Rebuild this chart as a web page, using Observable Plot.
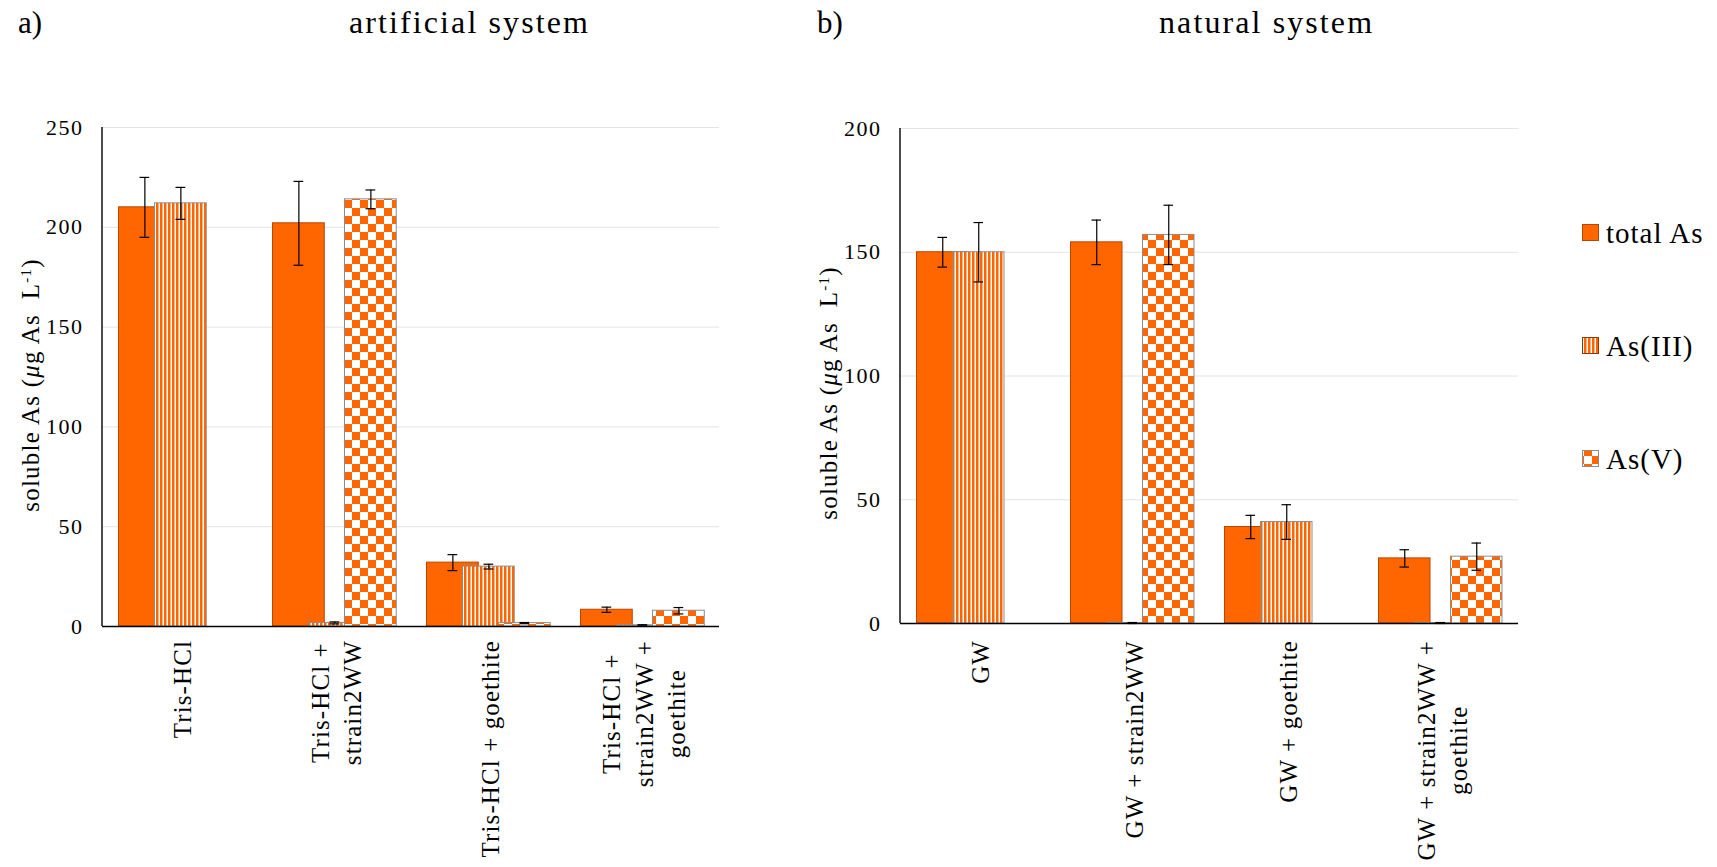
<!DOCTYPE html>
<html><head><meta charset="utf-8">
<script src="https://cdn.jsdelivr.net/npm/d3@7"></script>
<script src="https://cdn.jsdelivr.net/npm/@observablehq/plot@0.6"></script>
<style>
html,body{margin:0;padding:0;background:#fff;}
body{width:1717px;height:867px;position:relative;overflow:hidden;font-family:"Liberation Serif","Times New Roman",serif;}
.pan{position:absolute;top:0;}
.pan svg text{letter-spacing:1.5px;}
.pan svg g[aria-label="text"] text{letter-spacing:1.1px;}
#overlay{position:absolute;left:0;top:0;pointer-events:none;}
#overlay text{font-family:"Liberation Serif","Times New Roman",serif;fill:#000;}
</style></head><body>
<svg width="0" height="0" style="position:absolute">
<defs>
<pattern id="stripes" patternUnits="userSpaceOnUse" width="4" height="4"><rect width="4" height="4" fill="#fff"/><rect width="2.5" height="4" fill="#ff6600"/></pattern>
<pattern id="checks" patternUnits="userSpaceOnUse" width="16" height="16"><rect width="16" height="16" fill="#fff"/><rect width="8" height="8" fill="#ff6600"/><rect x="8" y="8" width="8" height="8" fill="#ff6600"/></pattern>
</defs></svg>
<div id="panelA" class="pan" style="left:0px"></div>
<div id="panelB" class="pan" style="left:780px"></div>
<svg id="overlay" width="1717" height="867"></svg>
<script>
// ---------------- data ----------------
const categoriesA = ["Tris-HCl", "Tris-HCl +\nstrain2WW", "Tris-HCl + goethite", "Tris-HCl +\nstrain2WW +\ngoethite"];
const totalA     = [210, 202, 32, 8.4];
const totalAErr  = [15, 21, 4, 1.3];
const as3A       = [212, 1.8, 30, 0.6];
const as3AErr    = [8, 0.5, 1.2, 0.3];
const as5A       = [null, 214, 1.7, 7.9];
const as5AErr    = [null, 4.7, 0.3, 1.6];

const categoriesB = ["GW", "GW + strain2WW", "GW + goethite", "GW + strain2WW +\ngoethite"];
const totalB     = [150, 154, 39, 26.3];
const totalBErr  = [6, 9, 4.7, 3.5];
const as3B       = [150, 0.2, 41, 0.2];
const as3BErr    = [12, 0.2, 7, 0.2];
const as5B       = [null, 157, null, 27];
const as5BErr    = [null, 12, null, 5.5];

const seriesNames = ["total As", "As(III)", "As(V)"];
const yTicksA = [0, 50, 100, 150, 200, 250];
const yTicksB = [0, 50, 100, 150, 200];
const titles = ["artificial system", "natural system"];
const panelTags = ["a)", "b)"];

// ---------------- styles ----------------
const ORANGE = "#ff6600";
const FONT = "Liberation Serif, Times New Roman, serif";
const seriesStyle = [
  {fill: ORANGE, stroke: "#b34700"},
  {fill: "url(#stripes)", stroke: "#8c8c8c"},
  {fill: "url(#checks)", stroke: "#8c8c8c"}
];
const NS = "http://www.w3.org/2000/svg";

function makePanel(host, cfg) {
  const {cats, series, ticks, width, height, ml, mr, mt, mb, labelTop} = cfg;
  const bw = (width - ml - mr) / cats.length;
  const W = 52, OFF = 36, L0 = 15.5, CAP = 10;
  const marks = [];
  marks.push(Plot.ruleY(ticks.slice(1), {stroke: "#e4e4e4", strokeWidth: 1}));
  const rowsOf = (s) => cats.map((c, i) => ({cat: c, v: s.values[i], e: s.errors[i]})).filter(d => d.v != null);
  series.forEach((s, k) => {
    const il = L0 + k * OFF, ir = bw - il - W;
    marks.push(Plot.barY(rowsOf(s), {x: "cat", y: "v", fill: seriesStyle[k].fill, stroke: seriesStyle[k].stroke, strokeWidth: 1, insetLeft: il, insetRight: ir}));
  });
  series.forEach((s, k) => {
    const il = L0 + k * OFF;
    const dx = il + W / 2 - bw / 2;
    const rows = rowsOf(s).filter(d => d.e != null);
    marks.push(Plot.ruleX(rows, {x: "cat", y1: d => d.v - d.e, y2: d => d.v + d.e, dx, stroke: "#000", strokeWidth: 1.2}));
    const cl = bw / 2 + dx - CAP / 2, cr = bw / 2 - dx - CAP / 2;
    marks.push(Plot.tickY(rows, {x: "cat", y: d => d.v + d.e, insetLeft: cl, insetRight: cr, stroke: "#000", strokeWidth: 1.2}));
    marks.push(Plot.tickY(rows, {x: "cat", y: d => d.v - d.e, insetLeft: cl, insetRight: cr, stroke: "#000", strokeWidth: 1.2}));
  });
  marks.push(Plot.ruleY([0], {stroke: "#000", strokeWidth: 1.6}));
  // y axis line
  marks.push((index, scales, values, dims) => {
    const l = document.createElementNS(NS, "line");
    l.setAttribute("x1", dims.marginLeft); l.setAttribute("x2", dims.marginLeft);
    l.setAttribute("y1", dims.marginTop); l.setAttribute("y2", dims.height - dims.marginBottom);
    l.setAttribute("stroke", "#000"); l.setAttribute("stroke-width", 1.4);
    return l;
  });
  marks.push(Plot.axisY({ticks, tickSize: 0, tickPadding: 19, fontSize: 22, fontFamily: FONT, label: null}));
  marks.push(Plot.text(cats, {x: d => d, text: d => d, frameAnchor: "bottom", rotate: -90, textAnchor: "middle", lineAnchor: "middle", fontSize: 25, fontFamily: FONT, lineHeight: 1.3}));
  const svg = Plot.plot({
    width, height, marginLeft: ml, marginRight: mr, marginTop: mt, marginBottom: mb,
    x: {domain: cats, padding: 0, axis: null},
    y: {domain: [0, ticks[ticks.length - 1]], axis: null},
    style: {background: "transparent", color: "#000", fontFamily: FONT},
    marks
  });
  host.appendChild(svg);
  // place each rotated label block so that its top sits just below the axis
  const svgTop = svg.getBoundingClientRect().top;
  svg.querySelectorAll('g[aria-label="text"] text').forEach(t => {
    const r = t.getBoundingClientRect();
    const shift = svgTop + labelTop - r.top;
    const tr = t.getAttribute("transform") || "";
    t.setAttribute("transform", `translate(0,${shift}) ` + tr);
  });
  return svg;
}

makePanel(document.getElementById("panelA"), {
  cats: categoriesA,
  series: [{values: totalA, errors: totalAErr}, {values: as3A, errors: as3AErr}, {values: as5A, errors: as5AErr}],
  ticks: yTicksA, width: 760, height: 867, ml: 102, mr: 41, mt: 127, mb: 241, labelTop: 640
});
makePanel(document.getElementById("panelB"), {
  cats: categoriesB,
  series: [{values: totalB, errors: totalBErr}, {values: as3B, errors: as3BErr}, {values: as5B, errors: as5BErr}],
  ticks: yTicksB, width: 760, height: 867, ml: 120, mr: 22, mt: 128, mb: 244, labelTop: 640
});

// ---------------- overlay: titles, y labels, legend ----------------
const ov = d3.select("#overlay");
function txt(x, y, s, size, ls, anchor = "start") {
  return ov.append("text").attr("x", x).attr("y", y).attr("font-size", size)
    .attr("letter-spacing", ls).attr("text-anchor", anchor).text(s);
}
txt(18, 33, panelTags[0], 31, 0);
txt(349, 33, titles[0], 32, 2.1);
txt(817, 33, panelTags[1], 31, 0);
txt(1159, 33, titles[1], 32, 2.1);

function ylabel(x, y) {
  const t = ov.append("text").attr("transform", `translate(${x},${y}) rotate(-90)`)
    .attr("text-anchor", "middle").attr("font-size", 25).attr("letter-spacing", 1.2);
  t.append("tspan").text("soluble As (");
  t.append("tspan").attr("font-style", "italic").text("\u03bc");
  t.append("tspan").text("g As\u00a0 L");
  t.append("tspan").attr("font-size", 15).attr("baseline-shift", "super").text("-1");
  t.append("tspan").text(")");
}
ylabel(39, 385);
ylabel(837, 393);

const legY = [224, 337, 450];
const legFill = ["#ff6600", "url(#stripes)", "url(#checks)"];
const legStroke = ["#b34700", "#8c3a00", "#8c8c8c"];
seriesNames.forEach((n, i) => {
  ov.append("rect").attr("x", 1582.5).attr("y", legY[i] + 0.5).attr("width", 16).attr("height", 16)
    .attr("fill", legFill[i]).attr("stroke", legStroke[i]).attr("stroke-width", 1);
  txt(1606, legY[i] + 19, n, 29, 1.0);
});
</script>
</body></html>
